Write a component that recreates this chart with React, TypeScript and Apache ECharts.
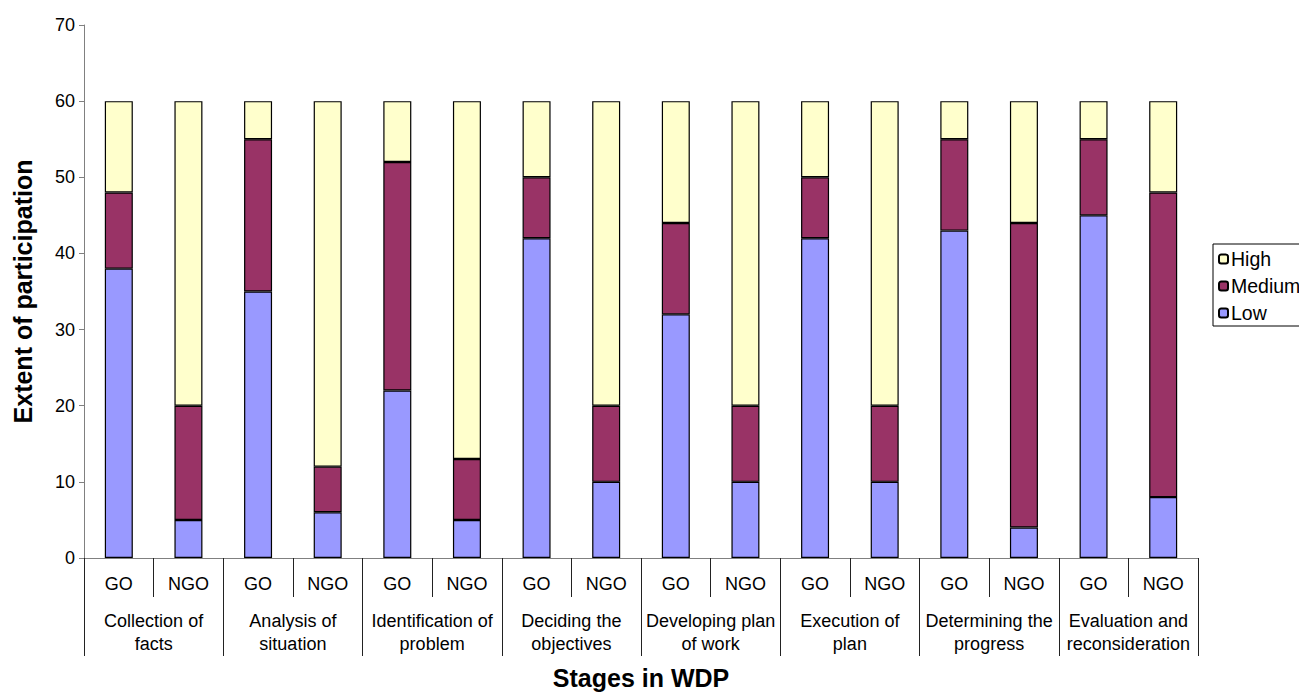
import React, { useEffect, useRef } from "react";
import * as echarts from "echarts";

const stageLabels = [
  "Collection of\nfacts",
  "Analysis of\nsituation",
  "Identification of\nproblem",
  "Deciding the\nobjectives",
  "Developing plan\nof work",
  "Execution of\nplan",
  "Determining the\nprogress",
  "Evaluation and\nreconsideration",
];
const orgLabels = [
  "GO", "NGO", "GO", "NGO", "GO", "NGO", "GO", "NGO",
  "GO", "NGO", "GO", "NGO", "GO", "NGO", "GO", "NGO",
];
const lowValues = [38, 5, 35, 6, 22, 5, 42, 10, 32, 10, 42, 10, 43, 4, 45, 8];
const mediumValues = [10, 15, 20, 6, 30, 8, 8, 10, 12, 10, 8, 10, 12, 40, 10, 40];
const highValues = [12, 40, 5, 48, 8, 47, 10, 40, 16, 40, 10, 40, 5, 16, 5, 12];

const FONT = "Liberation Sans, Arial, sans-serif";

export default function App() {
  const ref = useRef<HTMLDivElement>(null);
  useEffect(() => {
    if (!ref.current) return;
    const chart = echarts.init(ref.current, undefined, { renderer: "svg" });
    const barStyle = (color: string) => ({
      color,
      borderColor: "#000",
      borderWidth: 1.2,
    });
    chart.setOption({
      animation: false,
      backgroundColor: "#fff",
      textStyle: { fontFamily: FONT, color: "#000" },
      grid: {
        left: 84,
        right: 101,
        top: 25,
        bottom: 135,
        containLabel: false,
        outerBoundsMode: "none",
      },
      legend: {
        orient: "vertical",
        left: 1213,
        top: 244,
        padding: [5, 12, 3, 5],
        itemGap: 7,
        itemWidth: 9,
        itemHeight: 9,
        borderColor: "#000",
        borderWidth: 1,
        data: ["High", "Medium", "Low"],
        textStyle: { fontFamily: FONT, fontSize: 19.5, color: "#000", padding: [0, 0, 0, -2] },
      },
      xAxis: [
        {
          type: "category",
          data: orgLabels,
          axisLine: { show: true, lineStyle: { color: "#808080", width: 1 } },
          axisTick: { show: true, interval: 0, length: 39, lineStyle: { color: "#222" } },
          axisLabel: { interval: 0, margin: 17, fontSize: 18, color: "#000", fontFamily: FONT },
        },
        {
          type: "category",
          data: stageLabels,
          position: "bottom",
          axisLine: { show: false },
          axisTick: { show: true, interval: 0, length: 98, lineStyle: { color: "#222" } },
          axisLabel: {
            interval: 0,
            margin: 51,
            fontSize: 18,
            lineHeight: 23,
            color: "#000",
            fontFamily: FONT,
          },
          name: "Stages in WDP",
          nameLocation: "middle",
          nameGap: 107,
          nameTextStyle: { fontSize: 25, fontWeight: "bold", color: "#000", fontFamily: FONT },
        },
      ],
      yAxis: {
        type: "value",
        min: 0,
        max: 70,
        interval: 10,
        splitLine: { show: false },
        axisLine: { show: true, lineStyle: { color: "#808080", width: 1 } },
        axisTick: { show: true, length: 5, lineStyle: { color: "#808080" } },
        axisLabel: { margin: 9, fontSize: 18, color: "#000", fontFamily: FONT },
        name: "Extent of participation",
        nameLocation: "middle",
        nameGap: 49,
        nameTextStyle: { fontSize: 25, fontWeight: "bold", color: "#000", fontFamily: FONT },
      },
      series: [
        { name: "Low", type: "bar", stack: "t", barWidth: 28, data: lowValues, itemStyle: barStyle("#9999FF") },
        { name: "Medium", type: "bar", stack: "t", barWidth: 28, data: mediumValues, itemStyle: barStyle("#993366") },
        { name: "High", type: "bar", stack: "t", barWidth: 28, data: highValues, itemStyle: barStyle("#FFFFCC") },
      ],
    });
    return () => chart.dispose();
  }, []);
  return (
    <div
      ref={ref}
      style={{ position: "fixed", left: 0, top: 0, width: 1299, height: 693 }}
    />
  );
}
